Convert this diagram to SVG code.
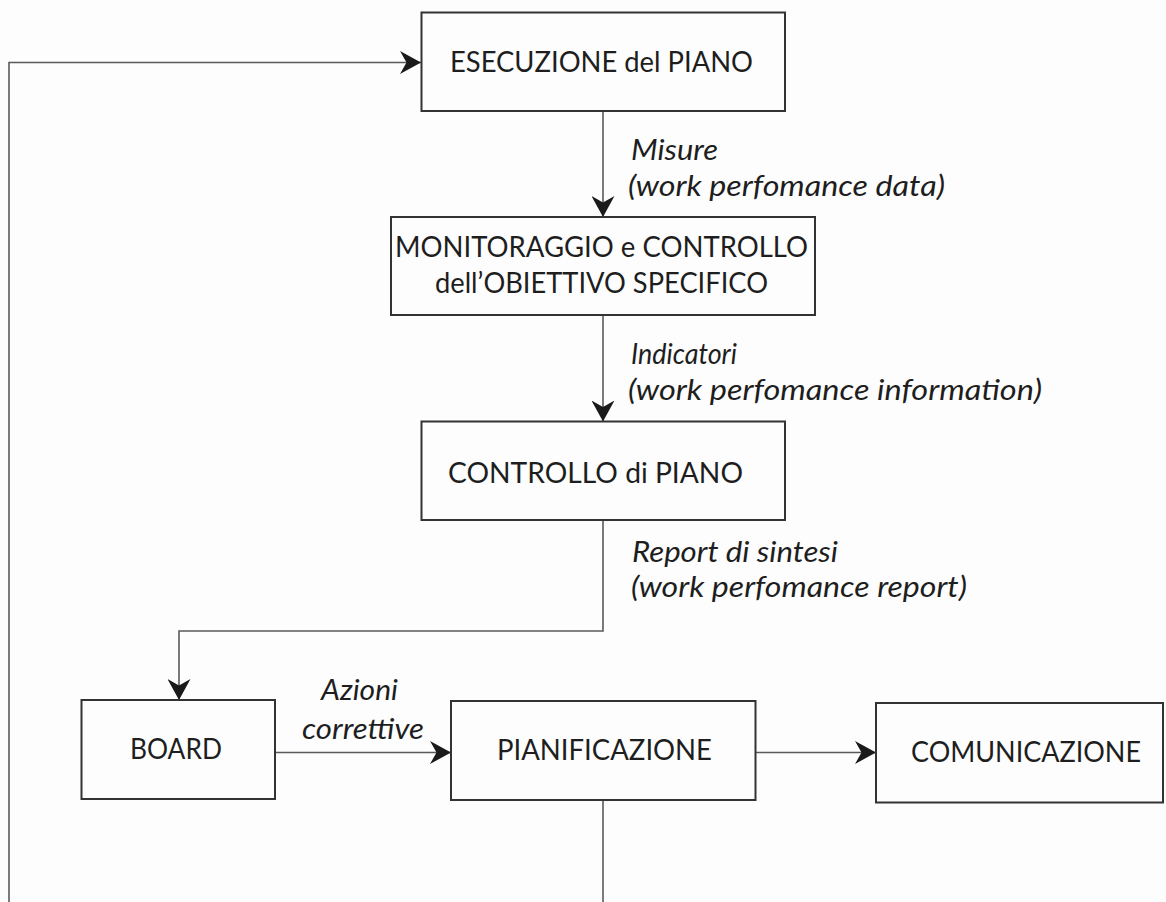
<svg xmlns="http://www.w3.org/2000/svg" width="1166" height="902" viewBox="0 0 1166 902">
  <style>
    .box { fill: none; stroke: #333333; stroke-width: 2; }
    .node-text { font-family: Lato, "Open Sans", "Liberation Sans", sans-serif; font-size: 29px; fill: #1e1e1e; }
    .edge { fill: none; stroke: #5a5a5a; stroke-width: 1.6; }
    .label { font-family: Lato, "Open Sans", "Liberation Sans", sans-serif; font-style: italic; font-size: 29px; fill: #1e1e1e; }
  </style>
  <defs>
    <marker id="arrow" viewBox="0 0 21 23" refX="21" refY="11.5" markerWidth="21" markerHeight="23" markerUnits="userSpaceOnUse" orient="auto">
      <path d="M0,0 L21,11.5 L0,23 L6.5,11.5 Z" fill="#1a1a1a"/>
    </marker>
  </defs>
  <rect width="1166" height="902" fill="#fdfdfd"/>

  <g id="connectors">
    <path class="edge" d="M9,902 V62.5 H421" marker-end="url(#arrow)"/>
    <path class="edge" d="M603,111 V217" marker-end="url(#arrow)"/>
    <path class="edge" d="M603,315 V421.5" marker-end="url(#arrow)"/>
    <path class="edge" d="M603,520 V631 H179 V700" marker-end="url(#arrow)"/>
    <path class="edge" d="M275,752.5 H451" marker-end="url(#arrow)"/>
    <path class="edge" d="M755.5,752.5 H876" marker-end="url(#arrow)"/>
    <path class="edge" d="M603,800 V902"/>
    <text class="label" x="631" y="160" textLength="87" lengthAdjust="spacingAndGlyphs">Misure</text>
    <text class="label" x="628" y="196" textLength="317" lengthAdjust="spacingAndGlyphs">(work perfomance data)</text>
    <text class="label" x="631" y="364" textLength="106" lengthAdjust="spacingAndGlyphs">Indicatori</text>
    <text class="label" x="628" y="400" textLength="414" lengthAdjust="spacingAndGlyphs">(work perfomance information)</text>
    <text class="label" x="632" y="562" textLength="206" lengthAdjust="spacingAndGlyphs">Report di sintesi</text>
    <text class="label" x="631" y="597" textLength="336" lengthAdjust="spacingAndGlyphs">(work perfomance report)</text>
    <text class="label" x="321" y="700" textLength="77" lengthAdjust="spacingAndGlyphs">Azioni</text>
    <text class="label" x="302" y="739" textLength="122" lengthAdjust="spacingAndGlyphs">correttive</text>
  </g>

  <g id="node-esecuzione">
    <rect class="box" x="421.5" y="12.5" width="363.5" height="98.5"/>
    <text class="node-text" x="450" y="72" textLength="303" lengthAdjust="spacingAndGlyphs">ESECUZIONE del PIANO</text>
  </g>

  <g id="node-monitoraggio">
    <rect class="box" x="391" y="217" width="424" height="98"/>
    <text class="node-text" x="395" y="257" textLength="413" lengthAdjust="spacingAndGlyphs">MONITORAGGIO e CONTROLLO</text>
    <text class="node-text" x="435" y="293" textLength="333" lengthAdjust="spacingAndGlyphs">dell’OBIETTIVO SPECIFICO</text>
  </g>

  <g id="node-controllo">
    <rect class="box" x="421.5" y="421.5" width="363.5" height="98.5"/>
    <text class="node-text" x="448" y="483" textLength="295" lengthAdjust="spacingAndGlyphs">CONTROLLO di PIANO</text>
  </g>

  <g id="node-board">
    <rect class="box" x="81.5" y="700" width="193.5" height="99"/>
    <text class="node-text" x="130" y="759" textLength="92" lengthAdjust="spacingAndGlyphs">BOARD</text>
  </g>

  <g id="node-pianificazione">
    <rect class="box" x="451" y="701" width="304.5" height="99"/>
    <text class="node-text" x="497" y="760" textLength="215" lengthAdjust="spacingAndGlyphs">PIANIFICAZIONE</text>
  </g>

  <g id="node-comunicazione">
    <rect class="box" x="876" y="703" width="287" height="99.5"/>
    <text class="node-text" x="911" y="762" textLength="230" lengthAdjust="spacingAndGlyphs">COMUNICAZIONE</text>
  </g>
</svg>
